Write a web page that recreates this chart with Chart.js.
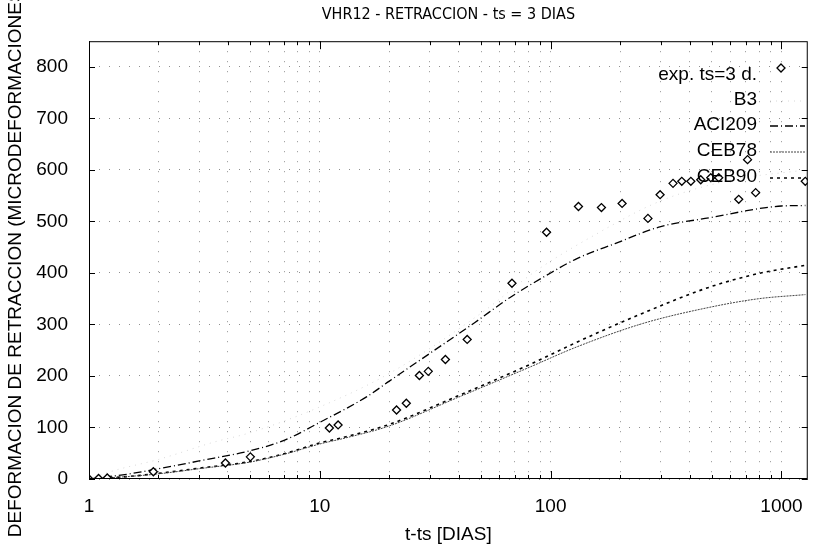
<!DOCTYPE html>
<html>
<head>
<meta charset="utf-8">
<script src="https://cdn.jsdelivr.net/npm/chart.js@4.4.1/dist/chart.umd.min.js"></script>
<style>
  html, body { margin: 0; padding: 0; background: #fff; }
  #wrap { width: 819px; height: 549px; }
</style>
</head>
<body>
<div id="wrap"><canvas id="shrinkChart"></canvas></div>
<script>
// values (t-ts in days, strain in microstrain)
const expDays   = [1, 1.1, 1.2, 1.9, 3.9, 5, 11, 12, 21.5, 23.7, 27, 29.5, 35, 43.5, 68, 96, 132, 166, 204, 264, 298, 339, 370, 405, 447, 494, 535, 653, 713, 773, 1268];
const expStrain = [0, 1, 2, 14, 31, 43, 99, 105, 134, 147, 201, 209, 232, 271, 380, 479, 529, 527, 535, 506, 552, 574, 578, 578, 581, 585, 585, 543, 620, 556, 578];

const b3Days   = [1, 1.3, 2, 3.5, 5, 10, 20, 50, 87, 150, 300, 600, 1270];
const b3Strain = [0, 17, 38, 72, 90, 140, 205, 322, 405, 470, 540, 580, 600];

const aciDays   = [1, 1.5, 2, 3, 5, 7, 10, 16, 20, 30, 47, 67, 100, 130, 190, 300, 500, 800, 1000, 1270];
const aciStrain = [0, 10, 20, 35, 55, 75, 110, 160, 190, 244, 304, 353, 400, 428, 457, 490, 508, 525, 530, 531];

const ceb78Days   = [1, 1.5, 2, 3, 5, 7, 10, 13, 20, 39, 81, 129, 251, 484, 796, 1270];
const ceb78Strain = [0, 5, 10, 20, 33, 48, 68, 80, 103, 157, 217, 256, 302, 333, 350, 358];

const ceb90Days   = [1, 1.5, 2, 3, 5, 7, 10, 13, 20, 39, 81, 129, 251, 484, 796, 1270];
const ceb90Strain = [0, 5, 11, 21, 34, 49, 70, 82, 106, 160, 222, 265, 322, 372, 399, 415];

const xLabelTicks = [1, 10, 100, 1000];
const yTickValues = [0, 100, 200, 300, 400, 500, 600, 700, 800];

const toPoints = (xs, ys) => xs.map((x, i) => ({ x: x, y: ys[i] }));

const narrow = "'Liberation Sans Narrow', 'DejaVu Sans Condensed', Arial, sans-serif";
const plain = "'Liberation Sans', Arial, sans-serif";

// box around the plot + small inward ticks
const frame = {
    id: 'frame',
    afterDraw(chart) {
        const { ctx, chartArea: a, scales } = chart;
        ctx.save();
        ctx.strokeStyle = '#000';
        ctx.lineWidth = 1;
        ctx.strokeRect(a.left + 0.5, a.top + 0.5, a.right - a.left - 1, a.bottom - a.top - 1);
        ctx.beginPath();
        scales.x.ticks.forEach(t => {
            const px = Math.round(scales.x.getPixelForValue(t.value)) + 0.5;
            const len = xLabelTicks.includes(t.value) ? 8 : 4;
            ctx.moveTo(px, a.bottom); ctx.lineTo(px, a.bottom - len);
            ctx.moveTo(px, a.top); ctx.lineTo(px, a.top + len);
        });
        scales.y.ticks.forEach(t => {
            const py = Math.round(scales.y.getPixelForValue(t.value)) + 0.5;
            ctx.moveTo(a.left, py); ctx.lineTo(a.left + 6, py);
            ctx.moveTo(a.right, py); ctx.lineTo(a.right - 6, py);
        });
        ctx.stroke();
        ctx.restore();
    }
};

// key in the top right corner, text first then sample
const keyBox = {
    id: 'keyBox',
    afterDraw(chart) {
        const { ctx } = chart;
        const rows = [75, 100, 125, 151, 177];
        ctx.save();
        ctx.font = '19px ' + plain;
        ctx.fillStyle = '#000';
        ctx.textAlign = 'right';
        ctx.textBaseline = 'middle';
        chart.data.datasets.forEach((ds, i) => {
            const y = rows[i];
            ctx.fillText(ds.label, 757, y);
            if (!ds.showLine) {
                const cx = 781, cy = y - 7, r = 4;
                ctx.beginPath();
                ctx.moveTo(cx, cy - r); ctx.lineTo(cx + r, cy); ctx.lineTo(cx, cy + r); ctx.lineTo(cx - r, cy);
                ctx.closePath();
                ctx.fillStyle = '#fff';
                ctx.fill();
                ctx.lineWidth = 1.3;
                ctx.strokeStyle = '#000';
                ctx.stroke();
                ctx.fillStyle = '#000';
            } else {
                ctx.beginPath();
                ctx.setLineDash(ds.borderDash || []);
                ctx.lineWidth = ds.borderWidth;
                ctx.strokeStyle = ds.borderColor;
                ctx.moveTo(770, y + 1); ctx.lineTo(805, y + 1);
                ctx.stroke();
                ctx.setLineDash([]);
            }
        });
        ctx.restore();
    }
};

const lineSet = (label, xs, ys, color, dash, width) => ({
    label: label,
    data: toPoints(xs, ys),
    showLine: true,
    borderColor: color,
    borderDash: dash,
    borderWidth: width,
    pointRadius: 0,
    fill: false,
    cubicInterpolationMode: 'monotone'
});

const ctx = document.getElementById('shrinkChart').getContext('2d');
const shrinkChart = new Chart(ctx, {
    type: 'scatter',
    data: {
        datasets: [
            {
                label: 'exp. ts=3 d.',
                data: toPoints(expDays, expStrain),
                showLine: false,
                pointStyle: 'rectRot',
                pointRadius: 4,
                backgroundColor: '#fff',
                borderColor: '#000',
                borderWidth: 1.3
            },
            lineSet('B3', b3Days, b3Strain, '#d8d8d8', [1, 5], 1),
            lineSet('ACI209', aciDays, aciStrain, '#000', [8, 3, 1, 3], 1.3),
            lineSet('CEB78', ceb78Days, ceb78Strain, '#444', [2, 1], 1),
            lineSet('CEB90', ceb90Days, ceb90Strain, '#000', [3, 4], 1.6)
        ]
    },
    options: {
        responsive: true,
        maintainAspectRatio: false,
        animation: false,
        layout: { padding: { top: 0, right: 4, bottom: 0, left: 0 } },
        scales: {
            x: {
                type: 'logarithmic',
                min: 1,
                max: 1300,
                afterBuildTicks: scale => {
                    const list = [];
                    [1, 10, 100, 1000].forEach(d => {
                        for (let m = 1; m <= 9; m++) {
                            if (m * d <= 1300) list.push({ value: m * d });
                        }
                    });
                    scale.ticks = list;
                },
                afterFit: scale => { scale.height = 70; },
                ticks: {
                    autoSkip: false,
                    maxRotation: 0,
                    padding: 16,
                    color: '#000',
                    font: { family: plain, size: 19 },
                    callback: v => xLabelTicks.includes(v) ? String(v) : ''
                },
                grid: { color: '#909090', drawTicks: false },
                border: { display: false, dash: [1, 9] },
                title: {
                    display: true,
                    text: 't-ts [DIAS]',
                    color: '#000',
                    font: { family: plain, size: 19 },
                    padding: { top: 0, bottom: 3 }
                }
            },
            y: {
                min: 0,
                max: 850,
                afterBuildTicks: scale => {
                    scale.ticks = yTickValues.map(v => ({ value: v }));
                },
                afterFit: scale => { scale.width = 89; },
                ticks: {
                    padding: 21,
                    color: '#000',
                    font: { family: plain, size: 19 }
                },
                grid: { color: '#909090', drawTicks: false },
                border: { display: false, dash: [1, 9] },
                title: {
                    display: true,
                    text: 'DEFORMACION DE RETRACCION (MICRODEFORMACIONES)',
                    color: '#000',
                    font: { family: plain, size: 19 },
                    padding: { top: 4, bottom: 0 }
                }
            }
        },
        plugins: {
            legend: { display: false },
            tooltip: { enabled: false },
            title: {
                display: true,
                fullSize: false,
                text: 'VHR12 - RETRACCION - ts = 3 DIAS',
                color: '#000',
                font: { family: narrow, size: 16, weight: 'normal' },
                padding: { top: 5, bottom: 17 }
            }
        }
    },
    plugins: [frame, keyBox]
});
</script>
</body>
</html>
